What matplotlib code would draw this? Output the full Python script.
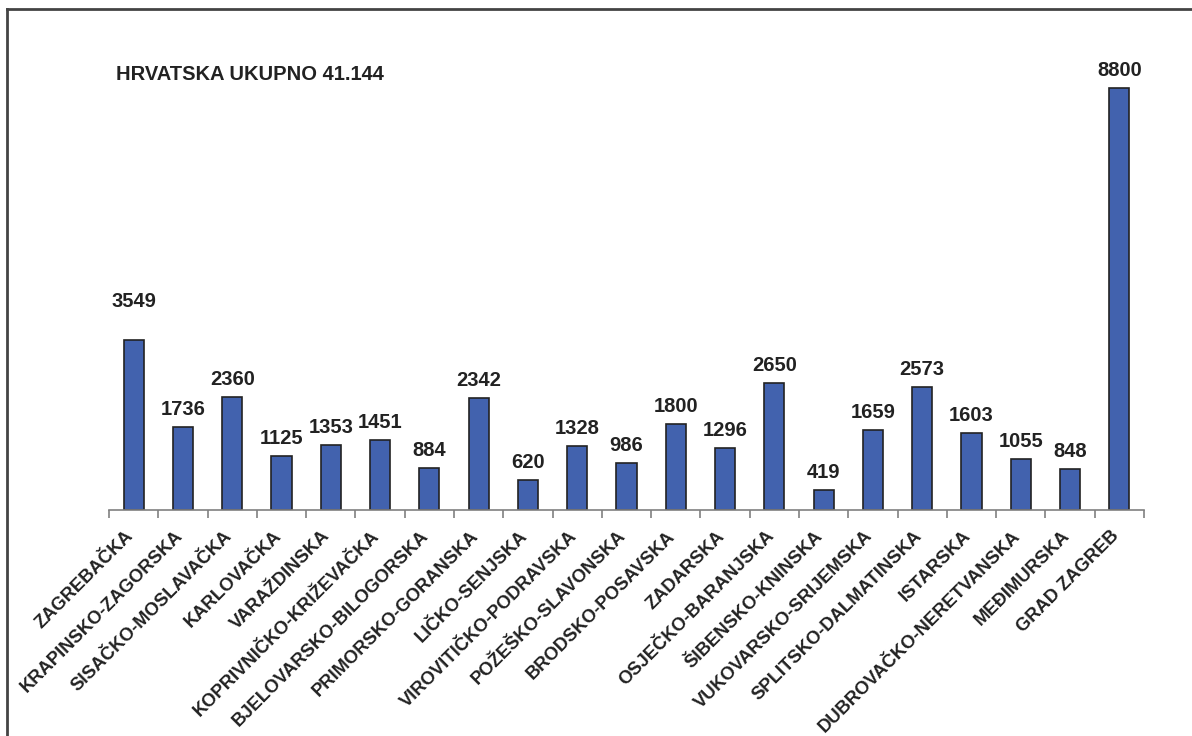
import matplotlib
matplotlib.use('Agg')
import matplotlib.pyplot as plt
from matplotlib.lines import Line2D
import matplotlib.transforms as mtransforms
import numpy as np

plt.rcParams['font.family'] = ['Liberation Sans', 'DejaVu Sans']

# Zaposleni po županijama
zupanije = ['ZAGREBAČKA', 'KRAPINSKO-ZAGORSKA', 'SISAČKO-MOSLAVAČKA', 'KARLOVAČKA',
            'VARAŽDINSKA', 'KOPRIVNIČKO-KRIŽEVAČKA', 'BJELOVARSKO-BILOGORSKA',
            'PRIMORSKO-GORANSKA', 'LIČKO-SENJSKA', 'VIROVITIČKO-PODRAVSKA',
            'POŽEŠKO-SLAVONSKA', 'BRODSKO-POSAVSKA', 'ZADARSKA', 'OSJEČKO-BARANJSKA',
            'ŠIBENSKO-KNINSKA', 'VUKOVARSKO-SRIJEMSKA', 'SPLITSKO-DALMATINSKA',
            'ISTARSKA', 'DUBROVAČKO-NERETVANSKA', 'MEĐIMURSKA', 'GRAD ZAGREB']
vrijednosti = [3549, 1736, 2360, 1125, 1353, 1451, 884, 2342, 620, 1328, 986,
               1800, 1296, 2650, 419, 1659, 2573, 1603, 1055, 848, 8800]
ukupno = '41.144'

W, H = 1192, 736
fig = plt.figure(figsize=(W / 100, H / 100), dpi=100)
ax = fig.add_axes([109 / W, (H - 510) / H, (1144 - 109) / W, (510 - 30) / H])

x = np.arange(len(zupanije))
ax.bar(x, vrijednosti, width=0.41, color='#4262AE', edgecolor='#222222', linewidth=1.2)

ax.set_xlim(-0.5, len(zupanije) - 0.5)
ax.set_ylim(0, 8800 * 480 / 422)

# natpisi vrijednosti iznad stupaca
for i, v in enumerate(vrijednosti):
    off = 29 if i == 0 else 8
    ax.annotate(str(v), (i, v), xytext=(0, off), textcoords='offset pixels',
                ha='center', va='bottom', fontsize=14.5, fontweight='bold', color='#222222')

for s in ['top', 'right', 'left']:
    ax.spines[s].set_visible(False)
ax.spines['bottom'].set_color('#808080')
ax.spines['bottom'].set_linewidth(1.2)
ax.set_yticks([])

ax.set_xticks(x)
ax.set_xticklabels(zupanije, rotation=45, ha='right', va='center', rotation_mode='anchor',
                   fontsize=13.2, fontweight='bold', color='#222222')
ax.tick_params(axis='x', which='major', length=0, pad=17)
shift = mtransforms.ScaledTranslation(-3 / 100, 0, fig.dpi_scale_trans)
for lab in ax.get_xticklabels():
    lab.set_transform(lab.get_transform() + shift)
ax.set_xticks(np.arange(len(zupanije) + 1) - 0.5, minor=True)
ax.tick_params(axis='x', which='minor', length=6, width=1.2, color='#808080')

fig.text(116 / W, 1 - 75 / H, 'HRVATSKA UKUPNO ' + ukupno, ha='left', va='center',
         fontsize=14.5, fontweight='bold', color='#222222')

# okvir
fig.add_artist(Line2D([7.5 / W, 7.5 / W], [0, 1 - 9 / H], transform=fig.transFigure,
                      color='#444444', linewidth=2))
fig.add_artist(Line2D([7.5 / W, 1], [1 - 9 / H, 1 - 9 / H], transform=fig.transFigure,
                      color='#444444', linewidth=2))

fig.savefig('out.png', dpi=100)
